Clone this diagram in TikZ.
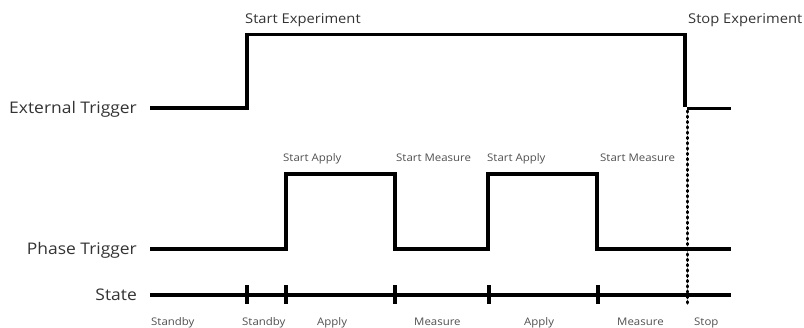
\documentclass[tikz,border=0pt]{standalone}
\usepackage{fontspec}
\setmainfont{Open Sans}[FakeStretch=1.09]
\definecolor{txt}{HTML}{333333}
\definecolor{txtl}{HTML}{505050}
\begin{document}
\begin{tikzpicture}[x=1pt,y=-1pt,
  wave/.style={line width=3.3pt,line join=miter,line cap=butt},
  thinwave/.style={line width=2.4pt},
  tick/.style={line width=3.2pt},
  dotline/.style={line width=3.6pt,line cap=round,dash pattern=on 1pt off 4.3pt},
  biglab/.style={font=\fontsize{16}{16}\selectfont,text=txt,inner sep=0pt},
  toplab/.style={font=\fontsize{13.5}{13.5}\selectfont,text=txt,inner sep=0pt},
  smlab/.style={font=\fontsize{10.5}{10.5}\selectfont,text=txtl,inner sep=0pt}]
\useasboundingbox (0,0) rectangle (804,328);
% signal labels
\node[biglab,anchor=base east] (lext) at (137,114) {External Trigger};
\node[biglab,anchor=base east] (lpha) at (137,254.5) {Phase Trigger};
\node[biglab,anchor=base east] (lsta) at (137,301) {State};
% top labels
\node[toplab,anchor=base west] (startexp) at (245,24) {Start Experiment};
\node[toplab,anchor=base west] (stopexp) at (688,24) {Stop Experiment};
% external trigger
\coordinate (e0) at (150,108);
\coordinate (e1) at (247,108);
\coordinate (e2) at (247,34.5);
\coordinate (e3) at (685,34.5);
\coordinate (e4) at (685,107.5);
\coordinate (e5) at (687,108.5);
\coordinate (e6) at (731,108.5);
\draw[wave] (e0) -- (e1) -- (e2) -- (e3) -- (e4);
\draw[thinwave] (e5) -- (e6);
% phase trigger
\coordinate (p0) at (150,249);
\coordinate (p1) at (286,249);
\coordinate (p2) at (286,174);
\coordinate (p3) at (395,174);
\coordinate (p4) at (395,249);
\coordinate (p5) at (488,249);
\coordinate (p6) at (488,174);
\coordinate (p7) at (597,174);
\coordinate (p8) at (597,249);
\coordinate (p9) at (731,249);
\draw[wave] (p0) -- (p1) -- (p2) -- (p3) -- (p4) -- (p5) -- (p6) -- (p7) -- (p8) -- (p9);
\node[smlab,anchor=base west] (sa1) at (283,161.5) {Start Apply};
\node[smlab,anchor=base west] (sm1) at (396,161.5) {Start Measure};
\node[smlab,anchor=base west] (sa2) at (487,161.5) {Start Apply};
\node[smlab,anchor=base west] (sm2) at (600,161.5) {Start Measure};
% state line
\coordinate (s0) at (150,295);
\coordinate (s1) at (731,295);
\draw[wave] (s0) -- (s1);
\foreach \x/\n in {247/t1,286/t2,395/t3,489/t4,598/t5}{
  \coordinate (\n a) at (\x,285.5);
  \coordinate (\n b) at (\x,304.5);
  \draw[tick] (\n a) -- (\n b);
}
% dotted stop line
\coordinate (d0) at (687.5,111);
\coordinate (d1) at (687.5,303);
\draw[dotline] (d0) -- (d1);
% state labels
\node[smlab,anchor=base west] (st1) at (151,325.5) {Standby};
\node[smlab,anchor=base west] (st2) at (242,325.5) {Standby};
\node[smlab,anchor=base west] (st3) at (317,325.5) {Apply};
\node[smlab,anchor=base west] (st4) at (414,325.5) {Measure};
\node[smlab,anchor=base west] (st5) at (524,325.5) {Apply};
\node[smlab,anchor=base west] (st6) at (617,325.5) {Measure};
\node[smlab,anchor=base west] (st7) at (694,325.5) {Stop};
\end{tikzpicture}
\end{document}
